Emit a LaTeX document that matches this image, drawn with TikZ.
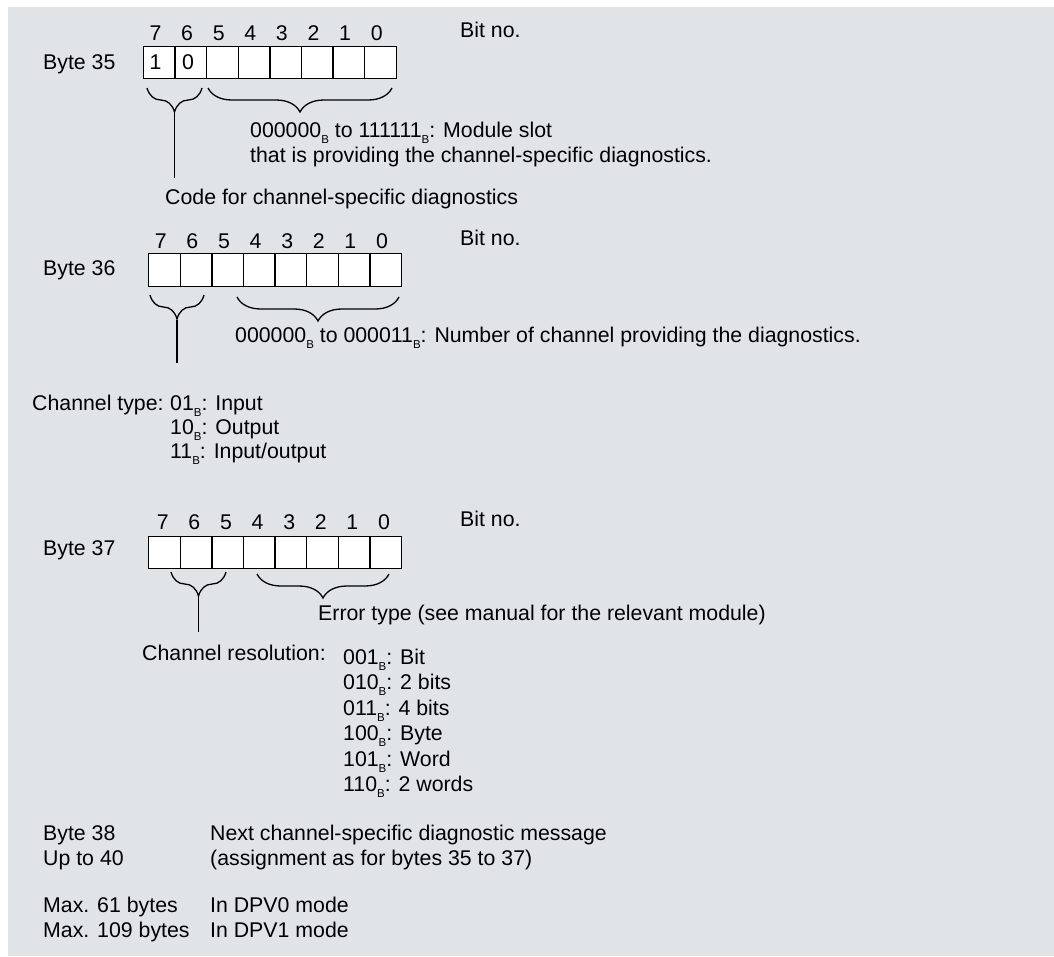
\documentclass[tikz,border=0pt]{standalone}
\usepackage{fontspec}
\setmainfont{Liberation Sans}
\usetikzlibrary{decorations.pathreplacing}
\definecolor{panel}{RGB}{225,228,231}
\newcommand{\sB}{\raisebox{-6pt}{\fontsize{11.5}{11.5}\selectfont B}}
\begin{document}
\begin{tikzpicture}[x=1pt,y=-1pt,
  txt/.style={anchor=base west,inner sep=0pt,font=\fontsize{21.3}{25}\selectfont},
  bitnum/.style={anchor=base,inner sep=0pt,font=\fontsize{21.3}{25}\selectfont},
  cell/.style={draw=black,fill=white,line width=1.4pt,anchor=north west,inner sep=0pt,minimum width=31.6pt,minimum height=32pt},
  bracedn/.style={decorate,decoration={brace,mirror,amplitude=24pt},line width=1.3pt},
  stem/.style={line width=1.3pt}]
\useasboundingbox (0,0) rectangle (1054,956);
\fill[white] (0,0) rectangle (1054,956);
\fill[panel] (8,7) rectangle (1054,956);

% ---------- Byte 35 ----------
\node[txt] (b35) at (43,69) {Byte 35};
\foreach \i [evaluate=\i as \b using int(7-\i)] in {0,...,7} {
  \node[cell] (r35c\b) at ({142.7+\i*31.6},46) {};
  \node[bitnum] (r35n\b) at ({142.7+\i*31.6+15.8-3},40) {\b};
}
\node[txt] (bitno35) at (460,37) {Bit no.};
\node[bitnum] (v1) at (155.5,69) {1};
\node[bitnum] (v0) at (188,69) {0};
\draw[bracedn] (147,88) -- (202,88);
\draw[bracedn] (208,88) -- (392,88);
\coordinate (t35) at (174.5,112);
\coordinate (e35) at (174.5,178);
\draw[stem] (t35) -- (e35);
\node[txt] (slot1) at (250,137) {000000\sB{} to 111111\sB: Module slot};
\node[txt] (slot2) at (250,162) {that is providing the channel-specific diagnostics.};
\node[txt] (code35) at (165,204) {Code for channel-specific diagnostics};

% ---------- Byte 36 ----------
\node[txt] (b36) at (43,275) {Byte 36};
\foreach \i [evaluate=\i as \b using int(7-\i)] in {0,...,7} {
  \node[cell,minimum height=33pt] (r36c\b) at ({148+\i*31.6},253) {};
  \node[bitnum] (r36n\b) at ({148+\i*31.6+15.8-3},248) {\b};
}
\node[txt] (bitno36) at (460,245) {Bit no.};
\draw[bracedn] (150,295) -- (204,295);
\draw[bracedn] (237,297) -- (399,297);
\coordinate (t36) at (177,320);
\coordinate (e36) at (177,363);
\draw[stem] (t36) -- (e36);
\node[txt] (chn36) at (235,342) {000000\sB{} to 000011\sB: Number of channel providing the diagnostics.};
\node[txt] (ctype) at (32,410) {Channel type:};
\node[txt] (ct1) at (170,410) {01\sB: Input};
\node[txt] (ct2) at (170,434) {10\sB: Output};
\node[txt] (ct3) at (170,458) {11\sB: Input/output};

% ---------- Byte 37 ----------
\node[txt] (b37) at (43,555) {Byte 37};
\foreach \i [evaluate=\i as \b using int(7-\i)] in {0,...,7} {
  \node[cell] (r37c\b) at ({148+\i*31.6},536) {};
  \node[bitnum] (r37n\b) at ({148+\i*31.6+15.8-1},529) {\b};
}
\node[txt] (bitno37) at (460,526) {Bit no.};
\draw[bracedn] (171,572) -- (226,572);
\draw[bracedn] (257,574) -- (389,574);
\coordinate (t37) at (198.5,596);
\coordinate (e37) at (198.5,632);
\draw[stem] (t37) -- (e37);
\node[txt] (err) at (318,620) {Error type (see manual for the relevant module)};
\node[txt] (cres) at (142,660) {Channel resolution:};
\node[txt] (cr1) at (343,664) {001\sB: Bit};
\node[txt] (cr2) at (343,689.5) {010\sB: 2 bits};
\node[txt] (cr3) at (343,715) {011\sB: 4 bits};
\node[txt] (cr4) at (343,740.5) {100\sB: Byte};
\node[txt] (cr5) at (343,766) {101\sB: Word};
\node[txt] (cr6) at (343,791.5) {110\sB: 2 words};

% ---------- Footer ----------
\node[txt] (b38) at (43,840) {Byte 38};
\node[txt] (upto) at (43,865) {Up to 40};
\node[txt] (next1) at (210,840) {Next channel-specific diagnostic message};
\node[txt] (next2) at (210,865) {(assignment as for bytes 35 to 37)};
\node[txt] (max61) at (43,912) {Max. 61 bytes};
\node[txt] (max109) at (43,937) {Max. 109 bytes};
\node[txt] (dpv0) at (210,912) {In DPV0 mode};
\node[txt] (dpv1) at (210,937) {In DPV1 mode};
\end{tikzpicture}
\end{document}
